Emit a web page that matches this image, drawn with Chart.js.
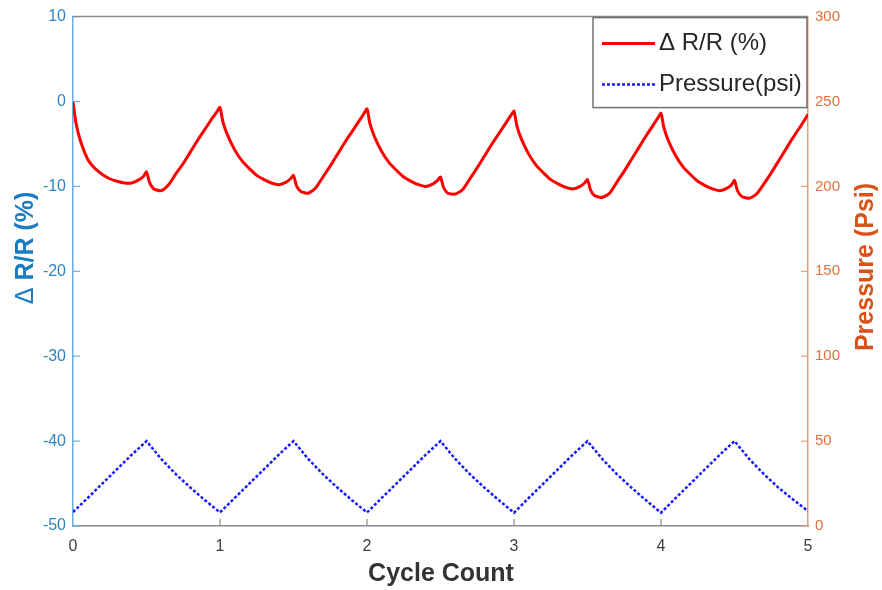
<!DOCTYPE html>
<html>
<head>
<meta charset="utf-8">
<script src="https://cdn.jsdelivr.net/npm/chart.js@4.4.0/dist/chart.umd.min.js"></script>
<style>
  html, body { margin: 0; padding: 0; background: #fff; }
</style>
</head>
<body>
<canvas id="chart" width="882" height="590"></canvas>
<script>
// cycle start positions on the x axis
const cycleStarts = [0, 1, 2, 3, 4];

// position inside one cycle for the resistance samples
const resistancePhase = [0, 0.02, 0.05, 0.1, 0.15, 0.2, 0.25, 0.3, 0.35, 0.4, 0.45, 0.48,
  0.5, 0.52, 0.55, 0.6, 0.65, 0.7, 0.75, 0.8, 0.85, 0.9, 0.95, 0.98];

// ΔR/R (%) read per cycle
const resistanceCycle1 = [0, -2.5, -4.6, -6.8, -7.9, -8.6, -9.1, -9.4, -9.6, -9.6, -9.2, -8.8,
  -8.3, -9.5, -10.3, -10.5, -9.8, -8.5, -7.3, -5.9, -4.5, -3.2, -1.9, -1.2];
const resistanceCycle2 = [-0.7, -2.4, -3.9, -5.7, -7.0, -7.9, -8.7, -9.2, -9.6, -9.8, -9.5, -9.1,
  -8.7, -9.9, -10.6, -10.8, -10.2, -8.9, -7.6, -6.2, -4.8, -3.5, -2.2, -1.4];
const resistanceCycle3 = [-0.86, -2.6, -4.1, -5.9, -7.2, -8.1, -8.9, -9.4, -9.8, -10.0, -9.7, -9.3,
  -8.9, -10.1, -10.8, -10.9, -10.4, -9.1, -7.8, -6.4, -5.0, -3.7, -2.4, -1.6];
const resistanceCycle4 = [-1.14, -2.9, -4.4, -6.2, -7.5, -8.4, -9.2, -9.7, -10.1, -10.3, -10.0, -9.6,
  -9.2, -10.4, -11.1, -11.3, -10.8, -9.5, -8.2, -6.8, -5.4, -4.0, -2.7, -1.9];
const resistanceCycle5 = [-1.38, -3.1, -4.6, -6.4, -7.7, -8.6, -9.4, -9.9, -10.3, -10.5, -10.2, -9.8,
  -9.3, -10.5, -11.2, -11.4, -10.9, -9.7, -8.4, -7.0, -5.6, -4.2, -2.9, -2.1];
const resistanceEnd = -1.5;

// pressure (psi) samples inside one cycle
const pressurePhase = [0, 0.1, 0.2, 0.3, 0.4, 0.5, 0.6, 0.7, 0.8, 0.9];
const pressureCycle1 = [8.2, 16.5, 25, 33.5, 42, 50, 39.5, 30.5, 22.5, 15];
const pressureCycle2 = [8, 16.5, 25, 33.5, 42, 50, 39.5, 30.5, 22.5, 15];
const pressureCycle3 = [8, 16.5, 25, 33.5, 42, 50, 39.5, 30.5, 22.5, 15];
const pressureCycle4 = [7.8, 16.5, 25, 33.5, 42, 50, 39.5, 30.5, 22.5, 15];
const pressureCycle5 = [7.8, 16.5, 25, 33.5, 42, 50, 39.5, 30.5, 22.5, 15.5];
const pressureEnd = 8.8;

const resistanceCycles = [resistanceCycle1, resistanceCycle2, resistanceCycle3, resistanceCycle4, resistanceCycle5];
const pressureCycles = [pressureCycle1, pressureCycle2, pressureCycle3, pressureCycle4, pressureCycle5];

function buildPoints(phase, cycles, endValue) {
  const pts = [];
  cycleStarts.forEach((start, c) => {
    phase.forEach((p, i) => pts.push({ x: start + p, y: cycles[c][i] }));
  });
  pts.push({ x: 5, y: endValue });
  return pts;
}

const blueAxis = '#2b86c5';
const blueLine = '#6aaee0';
const orangeAxis = '#e0703c';
const orangeLine = '#eb9a78';
const frameGray = '#8a8a8a';
const fontFamily = '"Liberation Sans", Arial, sans-serif';

// ticks pointing into the plot, like the original
const innerTicks = {
  id: 'innerTicks',
  afterDraw(chart) {
    const { ctx, chartArea: a, scales } = chart;
    ctx.save();
    ctx.lineWidth = 1.2;
    const mark = (x1, y1, x2, y2, color) => {
      ctx.strokeStyle = color;
      ctx.beginPath();
      ctx.moveTo(x1, y1);
      ctx.lineTo(x2, y2);
      ctx.stroke();
    };
    scales.y.ticks.forEach(t => {
      const py = scales.y.getPixelForValue(t.value);
      mark(a.left, py, a.left + 7, py, blueLine);
    });
    scales.y2.ticks.forEach(t => {
      const py = scales.y2.getPixelForValue(t.value);
      mark(a.right, py, a.right - 7, py, orangeLine);
    });
    scales.x.ticks.forEach(t => {
      const px = scales.x.getPixelForValue(t.value);
      if (px > a.left + 1 && px < a.right - 1) mark(px, a.bottom, px, a.bottom - 7, frameGray);
    });
    // top edge of the box
    ctx.lineWidth = 1.5;
    mark(a.left, a.top, a.right, a.top, frameGray);
    ctx.restore();
  }
};

// boxed legend in the upper right corner
const boxLegend = {
  id: 'boxLegend',
  afterDraw(chart) {
    const { ctx, chartArea: a } = chart;
    const w = 214, h = 90;
    const x0 = a.right - w - 1, y0 = a.top + 1;
    ctx.save();
    ctx.fillStyle = '#fff';
    ctx.fillRect(x0, y0, w, h);
    ctx.strokeStyle = '#707070';
    ctx.lineWidth = 1.5;
    ctx.strokeRect(x0, y0, w, h);
    ctx.font = '24px ' + fontFamily;
    ctx.textBaseline = 'middle';
    chart.data.datasets.forEach((ds, i) => {
      const cy = y0 + 26 + i * 41;
      ctx.strokeStyle = ds.borderColor;
      ctx.lineWidth = ds.borderWidth;
      ctx.setLineDash(ds.borderDash || []);
      ctx.beginPath();
      ctx.moveTo(x0 + 9, cy);
      ctx.lineTo(x0 + 62, cy);
      ctx.stroke();
      ctx.setLineDash([]);
      ctx.fillStyle = '#262626';
      ctx.fillText(ds.label, x0 + 66, cy);
    });
    ctx.restore();
  }
};

// axis titles
const axisTitles = {
  id: 'axisTitles',
  afterDraw(chart) {
    const { ctx } = chart;
    ctx.save();
    ctx.textBaseline = 'middle';
    ctx.font = 'bold 25px ' + fontFamily;
    ctx.textAlign = 'center';
    ctx.fillStyle = '#333333';
    ctx.fillText('Cycle Count', 441, 574);

    // left title: thin delta followed by bold text
    ctx.save();
    ctx.translate(26, 248);
    ctx.rotate(-Math.PI / 2);
    ctx.fillStyle = '#1a7dc2';
    ctx.textAlign = 'left';
    const delta = 'Δ', rest = ' R/R (%)';
    ctx.font = '25px ' + fontFamily;
    const dw = ctx.measureText(delta).width;
    ctx.font = 'bold 25px ' + fontFamily;
    const rw = ctx.measureText(rest).width;
    const start = -(dw + rw) / 2;
    ctx.font = '25px ' + fontFamily;
    ctx.fillText(delta, start, 0);
    ctx.font = 'bold 25px ' + fontFamily;
    ctx.fillText(rest, start + dw, 0);
    ctx.restore();

    ctx.save();
    ctx.translate(866, 267);
    ctx.rotate(-Math.PI / 2);
    ctx.textAlign = 'center';
    ctx.fillStyle = '#d95319';
    ctx.fillText('Pressure (Psi)', 0, 0);
    ctx.restore();
    ctx.restore();
  }
};

new Chart(document.getElementById('chart'), {
  type: 'line',
  data: {
    datasets: [
      {
        label: 'Δ R/R (%)',
        data: buildPoints(resistancePhase, resistanceCycles, resistanceEnd),
        yAxisID: 'y',
        borderColor: '#ff0000',
        borderWidth: 3,
        pointRadius: 0,
        tension: 0.2,
        fill: false
      },
      {
        label: 'Pressure(psi)',
        data: buildPoints(pressurePhase, pressureCycles, pressureEnd),
        yAxisID: 'y2',
        borderColor: '#1a1aff',
        borderWidth: 2.5,
        borderDash: [3, 2],
        pointRadius: 0,
        tension: 0,
        fill: false
      }
    ]
  },
  options: {
    responsive: false,
    animation: false,
    layout: { padding: { top: 16, left: 0, right: 0, bottom: 0 } },
    plugins: {
      legend: { display: false },
      tooltip: { enabled: false }
    },
    scales: {
      x: {
        type: 'linear',
        min: 0,
        max: 5,
        ticks: {
          stepSize: 1,
          color: '#404040',
          font: { size: 16, family: fontFamily },
          padding: 11
        },
        grid: { display: false, drawTicks: false },
        border: { color: frameGray, width: 1.5 },
        afterFit(scale) { scale.height = 64; }
      },
      y: {
        position: 'left',
        min: -50,
        max: 10,
        ticks: {
          stepSize: 10,
          color: blueAxis,
          font: { size: 16, family: fontFamily },
          padding: 7
        },
        grid: { display: false, drawTicks: false },
        border: { color: blueLine, width: 1.5 },
        afterFit(scale) { scale.width = 73; }
      },
      y2: {
        position: 'right',
        min: 0,
        max: 300,
        ticks: {
          stepSize: 50,
          color: orangeAxis,
          font: { size: 15, family: fontFamily },
          padding: 7
        },
        grid: { display: false, drawTicks: false },
        border: { color: orangeLine, width: 1.5 },
        afterFit(scale) { scale.width = 74; }
      }
    }
  },
  plugins: [innerTicks, boxLegend, axisTitles]
});
</script>
</body>
</html>
